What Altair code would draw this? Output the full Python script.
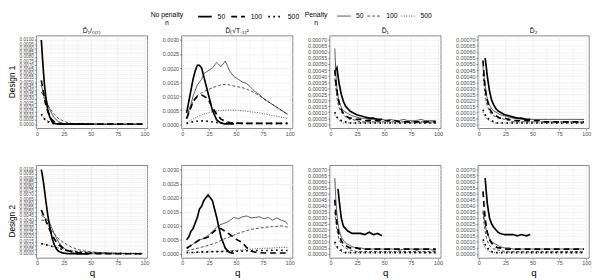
import altair as alt
import pandas as pd

# ---------------- grids / labels ----------------
Q_SHORT = [4, 5, 6, 7, 8, 10, 12, 14, 16, 18, 20, 24, 28, 32, 36, 40, 44, 48]
Q_LONG = [4, 5, 6, 7, 8, 10, 12, 14, 16, 18, 20, 24, 28, 32, 36, 40, 44, 48,
          52, 56, 60, 64, 68, 72, 76, 80, 84, 88, 92, 96, 98]
N_LEVELS = ["50", "100", "500"]
COL_TITLES = ["D\u0302\u2081/\u2099\u208d\u209c\u208e", "D\u0302\u208d\u221aT\u208b\u2081\u208e\u00b2",
              "D\u0302\u2081", "D\u0302\u2082"]
ROW_TITLES = ["Design 1", "Design 2"]
LEGEND_TITLES = [["No penalty", "n"], ["Penalty", "n"]]
X_TICKS = [0, 25, 50, 75, 100]
Y_TICKS_INV = [0.0, 0.0005, 0.001, 0.0015, 0.002, 0.0025, 0.003, 0.0035, 0.004, 0.0045, 0.005,
               0.0055, 0.006, 0.0065, 0.007, 0.0075, 0.008, 0.0085, 0.009, 0.0095, 0.01]
Y_TICKS_SQ = [0.0, 0.0005, 0.001, 0.0015, 0.002, 0.0025, 0.003]
Y_TICKS_D = [0.0, 0.00005, 0.0001, 0.00015, 0.0002, 0.00025, 0.0003, 0.00035, 0.0004, 0.00045,
             0.0005, 0.00055, 0.0006, 0.00065, 0.0007]

# ---------------- Design 1, D_1/n(t) ----------------
D1_INV_NP50 = [0.0100, 0.0080, 0.0062, 0.0046, 0.0034, 0.0017, 0.0008, 0.0003, 0.0001, 0.00005, 0.00002, 0.00001, 0.0, 0.0, 0.0, 0.0, 0.0, 0.0]
D1_INV_NP100 = [0.0052, 0.0045, 0.0037, 0.0030, 0.0024, 0.0015, 0.0009, 0.0005, 0.0003, 0.00015, 0.0001, 0.00004, 0.00002, 0.00001, 0.00001, 0.0, 0.0, 0.0,
                0.0, 0.0, 0.0, 0.0, 0.0, 0.0, 0.0, 0.0, 0.0, 0.0, 0.0, 0.0, 0.0]
D1_INV_NP500 = [0.0012, 0.0010, 0.0008, 0.0006, 0.0005, 0.0003, 0.0002, 0.0001, 0.00006, 0.00004, 0.00002, 0.00001, 0.0, 0.0, 0.0, 0.0, 0.0, 0.0,
                0.0, 0.0, 0.0, 0.0, 0.0, 0.0, 0.0, 0.0, 0.0, 0.0, 0.0, 0.0, 0.0]
D1_INV_P50 = [0.0046, 0.0042, 0.0038, 0.0034, 0.0030, 0.0023, 0.0017, 0.0012, 0.0008, 0.0005, 0.0003, 0.0001, 0.00004, 0.00002, 0.00001, 0.00001, 0.0, 0.0,
              0.0, 0.0, 0.0, 0.0, 0.0, 0.0, 0.0, 0.0, 0.0, 0.0, 0.0, 0.0, 0.0]
D1_INV_P100 = [0.0038, 0.0036, 0.0033, 0.0030, 0.0028, 0.0023, 0.0019, 0.0015, 0.0012, 0.0009, 0.0007, 0.0004, 0.0002, 0.0001, 0.00005, 0.00003, 0.00002, 0.00001,
               0.00001, 0.00001, 0.00001, 0.0, 0.0, 0.0, 0.0, 0.0, 0.0, 0.0, 0.0, 0.0, 0.0]
D1_INV_P500 = [0.0010, 0.0009, 0.0008, 0.0007, 0.0006, 0.0004, 0.0003, 0.0002, 0.00012, 0.00008, 0.00005, 0.00002, 0.00001, 0.00001, 0.0, 0.0, 0.0, 0.0,
               0.0, 0.0, 0.0, 0.0, 0.0, 0.0, 0.0, 0.0, 0.0, 0.0, 0.0, 0.0, 0.0]

# ---------------- Design 2, D_1/n(t) ----------------
D2_INV_NP50 = [0.0100, 0.0093, 0.0085, 0.0075, 0.0065, 0.0046, 0.0031, 0.0019, 0.0011, 0.0006, 0.0003, 0.0001, 0.00003, 0.00001, 0.00001, 0.0, 0.0, 0.0]
D2_INV_NP100 = [0.0052, 0.0049, 0.0046, 0.0043, 0.0040, 0.0034, 0.0028, 0.0023, 0.0018, 0.0014, 0.0011, 0.0007, 0.0004, 0.00025, 0.00015, 0.0001, 0.00007, 0.00005,
                0.00004, 0.00003, 0.00003, 0.00003, 0.00002, 0.00002, 0.00002, 0.00002, 0.00002, 0.00002, 0.00002, 0.00002, 0.00002]
D2_INV_NP500 = [0.0012, 0.00118, 0.00115, 0.0011, 0.00108, 0.00102, 0.00095, 0.00088, 0.0008, 0.00072, 0.00065, 0.0005, 0.0004, 0.00032, 0.00026, 0.0002, 0.00017, 0.00014,
                0.00012, 0.0001, 0.00009, 0.00008, 0.00007, 0.00006, 0.00005, 0.00005, 0.00004, 0.00004, 0.00003, 0.00003, 0.00003]
D2_INV_P50 = [0.0046, 0.0045, 0.0044, 0.0043, 0.0042, 0.0040, 0.0036, 0.0030, 0.0024, 0.0019, 0.0014, 0.0008, 0.0004, 0.0002, 0.0001, 0.00006, 0.00004, 0.00003,
              0.00002, 0.00002, 0.00002, 0.00002, 0.00001, 0.00001, 0.00001, 0.00001, 0.00001, 0.00001, 0.00001, 0.00001, 0.00001]
D2_INV_P100 = [0.0040, 0.0040, 0.0040, 0.0039, 0.0038, 0.0035, 0.0031, 0.0027, 0.0024, 0.0021, 0.0018, 0.0014, 0.0011, 0.0008, 0.0006, 0.00045, 0.00035, 0.00028,
               0.00022, 0.00018, 0.00014, 0.00012, 0.0001, 0.00008, 0.00007, 0.00006, 0.00005, 0.00005, 0.00004, 0.00004, 0.00004]
D2_INV_P500 = [0.0012, 0.0012, 0.00118, 0.00115, 0.00112, 0.00105, 0.00098, 0.0009, 0.00083, 0.00076, 0.0007, 0.00058, 0.00048, 0.0004, 0.00033, 0.00027, 0.00023, 0.0002,
               0.00017, 0.00015, 0.00013, 0.00011, 0.0001, 0.00009, 0.00008, 0.00007, 0.00006, 0.00006, 0.00005, 0.00005, 0.00005]

# ---------------- Design 1, D_(sqrt T - 1)^2 ----------------
D1_SQ_NP50 = [0.0004, 0.0006, 0.0008, 0.0010, 0.0012, 0.0016, 0.0019, 0.0021, 0.0021, 0.0020, 0.0017, 0.0011, 0.0005, 0.00015, 0.00004, 0.00001, 0.00001, 0.00001]
D1_SQ_NP100 = [0.0002, 0.0003, 0.0004, 0.0005, 0.0006, 0.0008, 0.0009, 0.0010, 0.00102, 0.00104, 0.0010, 0.0009, 0.0006, 0.00035, 0.00018, 0.0001, 0.00006, 0.00004,
               0.00004, 0.00003, 0.00003, 0.00003, 0.00003, 0.00003, 0.00003, 0.00003, 0.00003, 0.00003, 0.00003, 0.00003, 0.00003]
D1_SQ_NP500 = [0.00003, 0.00004, 0.00005, 0.00006, 0.00007, 0.00009, 0.0001, 0.00011, 0.00012, 0.00012, 0.00012, 0.0001, 0.00008, 0.00006, 0.00005, 0.00004, 0.00003, 0.00003,
               0.00003, 0.00003, 0.00003, 0.00003, 0.00003, 0.00003, 0.00003, 0.00003, 0.00003, 0.00003, 0.00003, 0.00003, 0.00003]
D1_SQ_P50 = [0.0002, 0.0003, 0.0005, 0.0006, 0.0007, 0.0010, 0.0012, 0.0014, 0.0015, 0.0016, 0.0018, 0.0019, 0.0020, 0.0022, 0.00205, 0.00225, 0.0019, 0.0017,
             0.0016, 0.0015, 0.00145, 0.0013, 0.00115, 0.00105, 0.0009, 0.0008, 0.0007, 0.0006, 0.0005, 0.0004, 0.00035]
D1_SQ_P100 = [0.0002, 0.0003, 0.0004, 0.0005, 0.0006, 0.0008, 0.00095, 0.00102, 0.00108, 0.00112, 0.00116, 0.00123, 0.0013, 0.00135, 0.0014, 0.00142, 0.0014, 0.00136,
              0.00133, 0.0013, 0.00125, 0.00118, 0.0011, 0.0010, 0.0009, 0.0008, 0.0007, 0.0006, 0.0005, 0.0004, 0.00035]
D1_SQ_P500 = [0.00005, 0.00007, 0.0001, 0.00012, 0.00014, 0.00018, 0.00022, 0.00026, 0.0003, 0.00033, 0.00036, 0.0004, 0.00044, 0.00047, 0.00049, 0.0005, 0.0005, 0.0005,
              0.00049, 0.00048, 0.00046, 0.00044, 0.00042, 0.0004, 0.00037, 0.00034, 0.00031, 0.00028, 0.00025, 0.00022, 0.0002]

# ---------------- Design 2, D_(sqrt T - 1)^2 ----------------
D2_SQ_NP50 = [0.0005, 0.00055, 0.0006, 0.0007, 0.0008, 0.0009, 0.0011, 0.0013, 0.0016, 0.0017, 0.0019, 0.0021, 0.0019, 0.0013, 0.0006, 0.0002, 0.00005, 0.00002]
D2_SQ_NP100 = [0.0002, 0.00022, 0.00025, 0.00027, 0.0003, 0.00035, 0.0004, 0.00045, 0.0005, 0.00052, 0.00055, 0.0006, 0.00075, 0.00088, 0.0009, 0.0008, 0.0007, 0.00058,
               0.00048, 0.0004, 0.00022, 0.0001, 0.00006, 0.00004, 0.00003, 0.00003, 0.00003, 0.00003, 0.00003, 0.00003, 0.00003]
D2_SQ_NP500 = [0.00005, 0.00005, 0.00005, 0.00005, 0.00005, 0.00005, 0.00006, 0.00006, 0.00006, 0.00007, 0.00007, 0.00007, 0.00008, 0.00008, 0.00008, 0.00009, 0.00009, 0.0001,
               0.0001, 0.0001, 0.00011, 0.00011, 0.00012, 0.00012, 0.00012, 0.00012, 0.00013, 0.00013, 0.00013, 0.00012, 0.00012]
D2_SQ_P50 = [0.00022, 0.00024, 0.00026, 0.00028, 0.0003, 0.00035, 0.0004, 0.00045, 0.0005, 0.00052, 0.00055, 0.00065, 0.0008, 0.00095, 0.00105, 0.0011, 0.00118, 0.0013,
             0.00125, 0.00132, 0.00135, 0.00128, 0.0013, 0.00132, 0.00125, 0.0013, 0.0012, 0.00128, 0.0012, 0.00115, 0.00105]
D2_SQ_P100 = [0.0001, 0.00011, 0.00012, 0.00013, 0.00014, 0.00016, 0.00018, 0.0002, 0.00022, 0.00024, 0.00026, 0.0003, 0.00035, 0.0004, 0.00048, 0.00055, 0.0006, 0.00067,
              0.00073, 0.00078, 0.00083, 0.00087, 0.0009, 0.00092, 0.00094, 0.00096, 0.00097, 0.00098, 0.0010, 0.00097, 0.00095]
D2_SQ_P500 = [0.00003, 0.00003, 0.00003, 0.00004, 0.00004, 0.00004, 0.00005, 0.00005, 0.00005, 0.00006, 0.00006, 0.00007, 0.00008, 0.00008, 0.00009, 0.0001, 0.00011, 0.00012,
              0.00013, 0.00014, 0.00016, 0.00017, 0.00018, 0.00019, 0.0002, 0.0002, 0.00021, 0.00022, 0.00022, 0.00023, 0.00023]

# ---------------- Design 1, D_1 ----------------
D1_D1_NP50 = [None, 0.00045, 0.00047, 0.0004, 0.00034, 0.00025, 0.00019, 0.00015, 0.00013, 0.00011, 0.0001, 0.00008, 0.00007, 0.00006, 0.00005, 0.00005, 0.00004, 0.00004]
D1_D1_NP100 = [0.00045, 0.00035, 0.00028, 0.00022, 0.00018, 0.00012, 0.00009, 0.00007, 0.00006, 0.00005, 0.00005, 0.00004, 0.00004, 0.00003, 0.00003, 0.00003, 0.00003, 0.00003,
               0.00003, 0.00003, 0.00003, 0.00002, 0.00002, 0.00002, 0.00002, 0.00002, 0.00002, 0.00002, 0.00002, 0.00002, 0.00002]
D1_D1_NP500 = [0.0001, 0.00008, 0.00006, 0.00005, 0.00004, 0.00003, 0.00002, 0.00002, 0.00001, 0.00001, 0.00001, 0.00001, 0.00001, 0.00001, 0.00001, 0.00001, 0.00001, 0.00001,
               0.00001, 0.00001, 0.00001, 0.00001, 0.00001, 0.00001, 0.00001, 0.00001, 0.00001, 0.00001, 0.00001, 0.00001, 0.00001]
D1_D1_P50 = [0.00063, 0.00042, 0.0003, 0.00023, 0.00019, 0.00014, 0.00011, 0.0001, 0.00009, 0.00008, 0.00007, 0.00006, 0.00005, 0.00005, 0.00004, 0.00004, 0.00004, 0.00004,
             0.00003, 0.00004, 0.00003, 0.00003, 0.00004, 0.00003, 0.00003, 0.00003, 0.00004, 0.00003, 0.00003, 0.00003, 0.00003]
D1_D1_P100 = [0.00038, 0.0003, 0.00022, 0.00017, 0.00014, 0.0001, 0.00008, 0.00006, 0.00005, 0.00004, 0.00004, 0.00003, 0.00002, 0.00002, 0.00002, 0.00002, 0.00002, 0.00002,
              0.00002, 0.00002, 0.00002, 0.00002, 0.00002, 0.00002, 0.00002, 0.00002, 0.00002, 0.00002, 0.00002, 0.00002, 0.00002]
D1_D1_P500 = [0.00008, 0.00006, 0.00005, 0.00004, 0.00003, 0.00002, 0.00001, 0.00001, 0.00001, 0.00001, 0.00001, 0.00001, 0.00001, 0.00001, 0.00001, 0.00001, 0.00001, 0.00001,
              0.00001, 0.00001, 0.00001, 0.00001, 0.00001, 0.00001, 0.00001, 0.00001, 0.00001, 0.00001, 0.00001, 0.00001, 0.00001]

# ---------------- Design 2, D_1 ----------------
D2_D1_NP50 = [None, None, None, 0.00054, 0.00045, 0.0003, 0.00023, 0.00021, 0.00019, 0.00018, 0.00017, 0.00017, 0.00017, 0.00016, 0.00018, 0.00016, 0.00017, 0.00015]
D2_D1_NP100 = [0.00045, 0.00033, 0.00025, 0.0002, 0.00016, 0.00011, 0.00008, 0.00007, 0.00006, 0.00005, 0.00005, 0.00005, 0.00004, 0.00004, 0.00004, 0.00004, 0.00004, 0.00004,
               0.00004, 0.00004, 0.00004, 0.00004, 0.00004, 0.00004, 0.00004, 0.00004, 0.00004, 0.00004, 0.00004, 0.00004, 0.00004]
D2_D1_NP500 = [0.0001, 0.00008, 0.00006, 0.00005, 0.00004, 0.00003, 0.00002, 0.00001, 0.00001, 0.00001, 0.00001, 0.00001, 0.00001, 0.00001, 0.00001, 0.00001, 0.00001, 0.00001,
               0.00001, 0.00001, 0.00001, 0.00001, 0.00001, 0.00001, 0.00001, 0.00001, 0.00001, 0.00001, 0.00001, 0.00001, 0.00001]
D2_D1_P50 = [0.00063, 0.00045, 0.00033, 0.00025, 0.0002, 0.00014, 0.00011, 0.00009, 0.00008, 0.00007, 0.00006, 0.00005, 0.00005, 0.00004, 0.00004, 0.00004, 0.00004, 0.00004,
             0.00004, 0.00004, 0.00004, 0.00003, 0.00004, 0.00004, 0.00004, 0.00003, 0.00004, 0.00004, 0.00004, 0.00003, 0.00003]
D2_D1_P100 = [0.00035, 0.00026, 0.0002, 0.00015, 0.00012, 0.00008, 0.00006, 0.00005, 0.00004, 0.00003, 0.00003, 0.00002, 0.00002, 0.00002, 0.00002, 0.00002, 0.00002, 0.00002,
              0.00002, 0.00002, 0.00002, 0.00002, 0.00002, 0.00002, 0.00002, 0.00002, 0.00002, 0.00002, 0.00002, 0.00002, 0.00002]
D2_D1_P500 = [0.00008, 0.00006, 0.00005, 0.00004, 0.00003, 0.00002, 0.00001, 0.00001, 0.00001, 0.00001, 0.00001, 0.00001, 0.00001, 0.00001, 0.00001, 0.00001, 0.00001, 0.00001,
              0.00001, 0.00001, 0.00001, 0.00001, 0.00001, 0.00001, 0.00001, 0.00001, 0.00001, 0.00001, 0.00001, 0.00001, 0.00001]

# ---------------- Design 1, D_2 ----------------
D1_D2_NP50 = [None, None, 0.00055, 0.00048, 0.0004, 0.00028, 0.0002, 0.00016, 0.00013, 0.00011, 0.0001, 0.00008, 0.00007, 0.00006, 0.00005, 0.00005, 0.00004, 0.00004]
D1_D2_NP100 = [0.00053, 0.0004, 0.0003, 0.00024, 0.0002, 0.00013, 0.0001, 0.00008, 0.00007, 0.00006, 0.00005, 0.00005, 0.00004, 0.00003, 0.00003, 0.00003, 0.00003, 0.00003,
               0.00003, 0.00003, 0.00002, 0.00002, 0.00002, 0.00002, 0.00002, 0.00002, 0.00002, 0.00002, 0.00002, 0.00002, 0.00002]
D1_D2_NP500 = [0.00012, 0.0001, 0.00008, 0.00006, 0.00005, 0.00004, 0.00003, 0.00002, 0.00001, 0.00001, 0.00001, 0.00001, 0.00001, 0.00001, 0.00001, 0.00001, 0.00001, 0.00001,
               0.00001, 0.00001, 0.00001, 0.00001, 0.00001, 0.00001, 0.00001, 0.00001, 0.00001, 0.00001, 0.00001, 0.00001, 0.00001]
D1_D2_P50 = [0.00048, 0.0004, 0.00032, 0.00026, 0.00021, 0.00016, 0.00013, 0.00011, 0.0001, 0.00009, 0.00008, 0.00007, 0.00006, 0.00005, 0.00005, 0.00004, 0.00004, 0.00004,
             0.00004, 0.00004, 0.00004, 0.00004, 0.00004, 0.00004, 0.00004, 0.00004, 0.00004, 0.00004, 0.00004, 0.00004, 0.00004]
D1_D2_P100 = [0.00042, 0.00032, 0.00024, 0.00019, 0.00015, 0.00011, 0.00008, 0.00007, 0.00006, 0.00005, 0.00005, 0.00004, 0.00003, 0.00002, 0.00002, 0.00002, 0.00002, 0.00002,
              0.00002, 0.00002, 0.00002, 0.00002, 0.00002, 0.00002, 0.00002, 0.00002, 0.00002, 0.00002, 0.00002, 0.00002, 0.00002]
D1_D2_P500 = [0.0001, 0.00008, 0.00006, 0.00005, 0.00004, 0.00003, 0.00002, 0.00001, 0.00001, 0.00001, 0.00001, 0.00001, 0.00001, 0.00001, 0.00001, 0.00001, 0.00001, 0.00001,
              0.00001, 0.00001, 0.00001, 0.00001, 0.00001, 0.00001, 0.00001, 0.00001, 0.00001, 0.00001, 0.00001, 0.00001, 0.00001]

# ---------------- Design 2, D_2 ----------------
D2_D2_NP50 = [None, None, 0.00063, 0.00052, 0.00042, 0.0003, 0.00025, 0.00022, 0.0002, 0.00018, 0.00017, 0.00016, 0.00016, 0.00016, 0.00015, 0.00016, 0.00015, 0.00016]
D2_D2_NP100 = [0.00052, 0.0004, 0.0003, 0.00023, 0.00018, 0.00012, 0.00009, 0.00007, 0.00006, 0.00005, 0.00005, 0.00004, 0.00004, 0.00004, 0.00004, 0.00004, 0.00004, 0.00004,
               0.00004, 0.00004, 0.00004, 0.00004, 0.00004, 0.00004, 0.00004, 0.00004, 0.00004, 0.00004, 0.00004, 0.00004, 0.00004]
D2_D2_NP500 = [0.00012, 0.0001, 0.00008, 0.00006, 0.00005, 0.00003, 0.00002, 0.00001, 0.00001, 0.00001, 0.00001, 0.00001, 0.00001, 0.00001, 0.00001, 0.00001, 0.00001, 0.00001,
               0.00001, 0.00001, 0.00001, 0.00001, 0.00001, 0.00001, 0.00001, 0.00001, 0.00001, 0.00001, 0.00001, 0.00001, 0.00001]
D2_D2_P50 = [0.00036, 0.0003, 0.00025, 0.0002, 0.00017, 0.00013, 0.0001, 0.00009, 0.00008, 0.00007, 0.00006, 0.00005, 0.00005, 0.00004, 0.00004, 0.00004, 0.00004, 0.00004,
             0.00004, 0.00004, 0.00004, 0.00004, 0.00004, 0.00004, 0.00004, 0.00004, 0.00004, 0.00004, 0.00004, 0.00004, 0.00004]
D2_D2_P100 = [0.00035, 0.00025, 0.00019, 0.00014, 0.00011, 0.00007, 0.00005, 0.00004, 0.00004, 0.00003, 0.00003, 0.00002, 0.00002, 0.00002, 0.00002, 0.00002, 0.00002, 0.00002,
              0.00002, 0.00002, 0.00002, 0.00002, 0.00002, 0.00002, 0.00002, 0.00002, 0.00002, 0.00002, 0.00002, 0.00002, 0.00002]
D2_D2_P500 = [0.0001, 0.00007, 0.00005, 0.00004, 0.00003, 0.00002, 0.00001, 0.00001, 0.00001, 0.00001, 0.00001, 0.00001, 0.00001, 0.00001, 0.00001, 0.00001, 0.00001, 0.00001,
              0.00001, 0.00001, 0.00001, 0.00001, 0.00001, 0.00001, 0.00001, 0.00001, 0.00001, 0.00001, 0.00001, 0.00001, 0.00001]

# ---------------- assemble a long table ----------------
EST_KEYS = ["INV", "SQ", "D1", "D2"]
REGISTRY = []
for d_i, dsg in enumerate(["D1", "D2"]):
    for est in EST_KEYS:
        for meth in ["NP", "P"]:
            for n in N_LEVELS:
                vals = globals()[f"{dsg}_{est}_{meth}{n}"]
                qs = Q_SHORT if (meth == "NP" and n == "50") else Q_LONG
                REGISTRY.append((ROW_TITLES[d_i], est, meth, n, qs, vals))

rows = []
for design, est, meth, n, qs, vals in REGISTRY:
    for q, v in zip(qs, vals, strict=True):
        if v is not None:
            rows.append({"design": design, "est": est, "method": meth, "n": n, "q": q, "v": v})
df = pd.DataFrame(rows)

# ---------------- styling ----------------
FONT = "Liberation Sans"
THICK = 1.7
THIN = 0.7
NP_DASH = [[1, 0], [6, 4], [1.7, 3.4]]
P_DASH = [[1, 0], [3, 2], [1, 1.5]]
X_DOMAIN = [-0.7, 102.7]
Y_INFO = {
    "INV": (Y_TICKS_INV, [-0.0005, 0.0105], ".4f", 4.8),
    "SQ": (Y_TICKS_SQ, [-0.00015, 0.00315], ".4f", 5.5),
    "D1": (Y_TICKS_D, [-0.000035, 0.000735], ".5f", 5.5),
    "D2": (Y_TICKS_D, [-0.000035, 0.000735], ".5f", 5.5),
}
GRID = "#EBEBEB"
W, H = 114, 95


def mids(t):
    return [(a + b) / 2 for a, b in zip(t[:-1], t[1:])]


def panel(design, est, col_i, top_row):
    yt, ydom, fmt, yfs = Y_INFO[est]
    sub = df[(df["design"] == design) & (df["est"] == est)]
    layers = []
    k = 0
    for meth, dashes, sw in [("NP", NP_DASH, THICK), ("P", P_DASH, THIN)]:
        for n, dash in zip(N_LEVELS, dashes):
            d = sub[(sub["method"] == meth) & (sub["n"] == n)]
            if k == 0:
                xa = alt.Axis(orient="top", values=mids(X_TICKS), labels=False, ticks=False, domain=False,
                              grid=True, gridColor=GRID, gridWidth=0.35, title=None, minExtent=0, maxExtent=0)
                ya = alt.Axis(orient="right", values=mids(yt), labels=False, ticks=False, domain=False,
                              grid=True, gridColor=GRID, gridWidth=0.35, title=None, minExtent=0, maxExtent=0)
            elif k == 1:
                xa = alt.Axis(orient="bottom", values=X_TICKS, format="d", labelFontSize=5.5, labelColor="#4D4D4D",
                              labelFlush=False, labelOverlap=False, labelPadding=1, tickSize=2, tickColor="#333333",
                              tickWidth=0.5, domain=False, grid=True, gridColor=GRID, gridWidth=0.7,
                              title=None if top_row else "q", titleFontSize=10, titleFontWeight="normal",
                              titlePadding=1, titleColor="black")
                ya = alt.Axis(orient="left", values=yt, format=fmt, labelFontSize=yfs, labelColor="#4D4D4D",
                              labelFlush=False, labelOverlap=False, labelPadding=1, tickSize=2, tickColor="#333333",
                              tickWidth=0.5, domain=False, grid=True, gridColor=GRID, gridWidth=0.7,
                              title=None, minExtent=0)
            else:
                xa = None
                ya = None
            layers.append(
                alt.Chart(d).mark_line(color="black", strokeWidth=sw, strokeDash=dash).encode(
                    x=alt.X("q:Q", scale=alt.Scale(domain=X_DOMAIN, nice=False, zero=False), axis=xa),
                    y=alt.Y("v:Q", scale=alt.Scale(domain=ydom, nice=False, zero=False), axis=ya),
                    order="q:Q",
                )
            )
            k += 1
    ch = alt.layer(*layers).resolve_axis(x="independent", y="independent")
    props = dict(width=W, height=H,
                 view=alt.ViewBackground(stroke="#333333", strokeWidth=0.6, fill="white"))
    if top_row:
        props["title"] = alt.TitleParams(COL_TITLES[col_i], fontSize=7, fontWeight="normal",
                                         offset=2, anchor="middle", color="black", font=FONT)
    return ch.properties(**props)


row_charts = []
for r_i, design in enumerate(ROW_TITLES):
    panels = [panel(design, est, c_i, r_i == 0) for c_i, est in enumerate(EST_KEYS)]
    row_charts.append(
        alt.hconcat(*panels, spacing=12,
                    title=alt.TitleParams(design, orient="left", fontSize=8.5, fontWeight="normal",
                                          anchor="middle", offset=2, color="black", font=FONT))
    )

# ---------------- legend strip ----------------
leg_df = pd.DataFrame({"n": N_LEVELS, "x": [0, 0, 0], "y": [0, 0, 0]})
LEG_SYMBOL = "M-1.75,0L1.75,0"


def leg_layer(field_title, dashes, sw, lx):
    return alt.Chart(leg_df).mark_line(opacity=0).encode(
        x=alt.X("x:Q", axis=None),
        y=alt.Y("y:Q", axis=None),
        strokeDash=alt.StrokeDash(
            "n:N",
            scale=alt.Scale(domain=N_LEVELS, range=dashes),
            legend=alt.Legend(
                title=field_title, orient="none", legendX=lx, legendY=-5, direction="horizontal",
                symbolType=LEG_SYMBOL, symbolSize=64, symbolStrokeWidth=sw, symbolStrokeColor="black",
                labelFontSize=7, labelOffset=8, labelColor="black", columnPadding=2,
                titleOrient="left", titleFontSize=7, titleFontWeight="normal", titleColor="black",
                titlePadding=0, titleAlign="center", titleAnchor="start", titleBaseline="top",
                titleLineHeight=8, padding=0,
            ),
        ),
    )


legend_strip = alt.layer(
    leg_layer(LEGEND_TITLES[0], NP_DASH, THICK, 117),
    leg_layer(LEGEND_TITLES[1], P_DASH, THIN, 275),
).resolve_scale(strokeDash="independent").properties(
    width=570, height=1, view=alt.ViewBackground(stroke="transparent", strokeWidth=0)
)

chart = alt.vconcat(
    legend_strip,
    alt.vconcat(*row_charts, spacing=28),
    spacing=0,
).properties(
    padding={"left": 0, "top": 0, "right": 0, "bottom": 0}
).configure(font=FONT).configure_view(stroke="#333333")

chart.save("out.html", embed_options={"renderer": "svg", "actions": False})
